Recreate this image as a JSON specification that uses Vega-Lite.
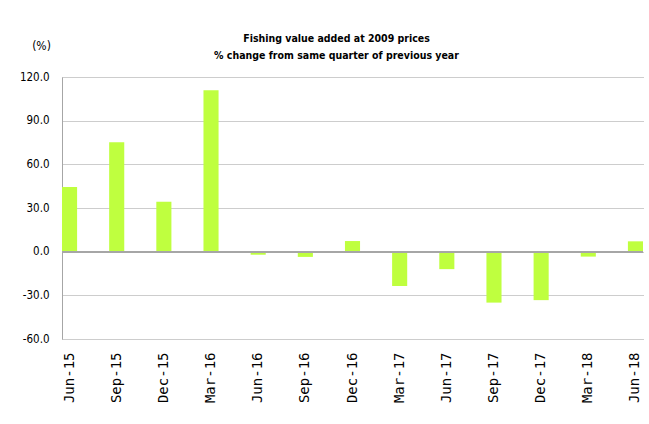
{
  "$schema": "https://vega.github.io/schema/vega-lite/v6.json",
  "autosize": {"type": "none"},
  "width": 581,
  "height": 262,
  "padding": {"left": 62, "top": 77, "right": 6, "bottom": 85},
  "background": "white",
  "title": {
    "text": ["Fishing value added at 2009 prices", "% change from same quarter of previous year"],
    "font": "DejaVu Sans Condensed",
    "fontSize": 10.5,
    "fontWeight": "bold",
    "color": "#000000",
    "anchor": "middle",
    "frame": "group",
    "lineHeight": 17,
    "dx": -16,
    "dy": 28,
    "offset": 6
  },
  "config": {
    "view": {"stroke": null},
    "locale": {
      "number": {
        "decimal": ".",
        "thousands": ",",
        "grouping": [3],
        "currency": ["$", ""],
        "minus": "-"
      }
    }
  },
  "data": {
    "values": [
      {"quarter": "Jun-15", "change": 44.4},
      {"quarter": "Sep-15", "change": 75.2},
      {"quarter": "Dec-15", "change": 34.3},
      {"quarter": "Mar-16", "change": 110.9},
      {"quarter": "Jun-16", "change": -2.1},
      {"quarter": "Sep-16", "change": -3.6},
      {"quarter": "Dec-16", "change": 7.3},
      {"quarter": "Mar-17", "change": -23.6},
      {"quarter": "Jun-17", "change": -12.0},
      {"quarter": "Sep-17", "change": -35.0},
      {"quarter": "Dec-17", "change": -33.3},
      {"quarter": "Mar-18", "change": -3.4},
      {"quarter": "Jun-18", "change": 7.1}
    ]
  },
  "layer": [
    {
      "mark": {"type": "bar", "color": "#bfff3f"},
      "encoding": {
        "x": {
          "field": "quarter",
          "type": "nominal",
          "sort": null,
          "scale": {"paddingInner": 0.68, "paddingOuter": 0},
          "axis": {
            "title": null,
            "domain": false,
            "ticks": false,
            "labelAngle": -90,
            "labelPadding": 13,
            "labelFont": "DejaVu Sans Mono",
            "labelFontSize": 14,
            "labelColor": "#000000"
          }
        },
        "y": {
          "field": "change",
          "type": "quantitative",
          "scale": {"domain": [-60, 120], "nice": false},
          "axis": {
            "values": [-60, -30, 0, 30, 60, 90, 120],
            "format": ".1f",
            "title": "(%)",
            "titleAngle": 0,
            "titleX": -21,
            "titleY": -32,
            "titleAlign": "center",
            "titleBaseline": "middle",
            "titleFont": "DejaVu Sans Condensed",
            "titleFontSize": 12,
            "titleFontWeight": "normal",
            "titleColor": "#000000",
            "labelFont": "DejaVu Sans Condensed",
            "labelFontSize": 11.5,
            "labelColor": "#000000",
            "labelPadding": 13,
            "ticks": false,
            "domainColor": "#a6a6a6",
            "domainWidth": 1,
            "grid": true,
            "gridColor": "#9a9a9a",
            "gridDash": [1, 1],
            "gridWidth": 1
          }
        }
      }
    },
    {
      "mark": {"type": "rule", "color": "#a6a6a6", "strokeWidth": 1.5},
      "encoding": {
        "y": {"datum": 0, "type": "quantitative"}
      }
    }
  ]
}
